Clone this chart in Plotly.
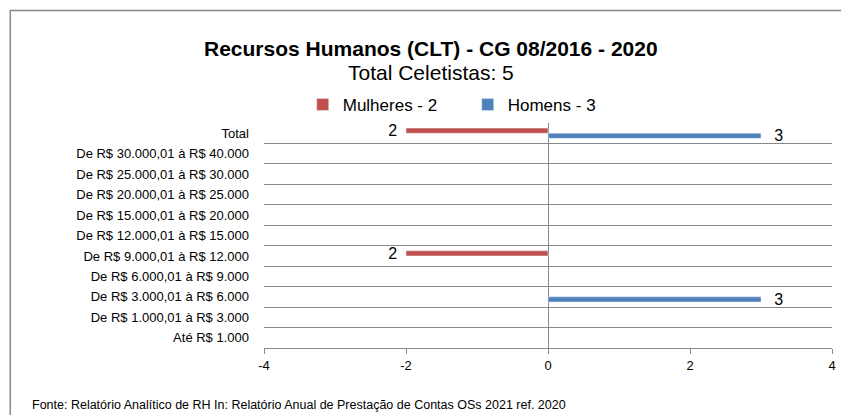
import plotly.graph_objects as go

categories = [
    "Total",
    "De R$ 30.000,01 à R$ 40.000",
    "De R$ 25.000,01 à R$ 30.000",
    "De R$ 20.000,01 à R$ 25.000",
    "De R$ 15.000,01 à R$ 20.000",
    "De R$ 12.000,01 à R$ 15.000",
    "De R$ 9.000,01 à R$ 12.000",
    "De R$ 6.000,01 à R$ 9.000",
    "De R$ 3.000,01 à R$ 6.000",
    "De R$ 1.000,01 à R$ 3.000",
    "Até R$ 1.000",
]
mulheres = [2, 0, 0, 0, 0, 0, 2, 0, 0, 0, 0]
homens = [3, 0, 0, 0, 0, 0, 0, 0, 3, 0, 0]
x_ticks = [-4, -2, 0, 2, 4]
x_tick_labels = ["-4", "-2", "0", "2", "4"]

title = "Recursos Humanos (CLT) - CG 08/2016 - 2020"
subtitle = "Total Celetistas: 5"
source = "Fonte: Relatório Analítico de RH In: Relatório Anual de Prestação de Contas OSs 2021 ref. 2020"

FONT = "Liberation Sans, Arial, sans-serif"
RED = "#C0504D"
BLUE = "#4F81BD"
NB = "\u00a0\u00a0"

W, H = 841, 415
L, R, T, B = 264, 5, 123, 67
pw = W - L - R
ph = H - T - B


def px(x):
    return (x - L) / pw


def py(y):
    return (H - y - B) / ph


fig = go.Figure()
fig.add_trace(go.Bar(
    y=categories,
    x=[-v if v else None for v in mulheres],
    text=[(str(v) + NB) if v else "" for v in mulheres],
    textposition="outside",
    constraintext="none",
    orientation="h",
    name="Mulheres - %d" % mulheres[0],
    marker=dict(color=RED),
    textfont=dict(size=16, color="#000", family=FONT),
    cliponaxis=False,
    legendrank=1,
))
fig.add_trace(go.Bar(
    y=categories,
    x=[v if v else None for v in homens],
    text=[(NB + "\u00a0" + str(v)) if v else "" for v in homens],
    textposition="outside",
    constraintext="none",
    orientation="h",
    name="Homens - %d" % homens[0],
    marker=dict(color=BLUE),
    textfont=dict(size=16, color="#000", family=FONT),
    cliponaxis=False,
    legendrank=2,
))

fig.update_layout(
    width=W, height=H,
    margin=dict(l=L, r=R, t=T, b=B),
    paper_bgcolor="white", plot_bgcolor="white",
    font=dict(family=FONT, color="#000", size=12),
    barmode="group",
    bargap=0.5,
    bargroupgap=0,
    showlegend=True,
    legend=dict(orientation="h", x=px(303), xanchor="left", y=py(105), yanchor="middle",
                font=dict(size=17, family=FONT),
                itemwidth=30, entrywidth=120, traceorder="normal"),
    xaxis=dict(range=[-4, 4], tickvals=x_ticks, ticktext=x_tick_labels,
               ticks="outside", ticklen=5,
               tickcolor="#888", showgrid=False, zeroline=True, zerolinecolor="#888",
               zerolinewidth=1, showline=True, linecolor="#888", linewidth=1,
               tickfont=dict(size=13, family=FONT)),
    yaxis=dict(type="category", autorange="reversed", tickson="boundaries",
               showgrid=True, gridcolor="#888", gridwidth=1, ticks="",
               showline=False, zeroline=False, tickfont=dict(size=13, family=FONT),
               ticklabelstandoff=14),
)

fig.add_annotation(text="<b>%s</b>" % title, x=px(432), y=py(48), xref="paper", yref="paper",
                   xanchor="center", yanchor="middle",
                   showarrow=False, font=dict(size=21, family=FONT))
fig.add_annotation(text=subtitle, x=px(432), y=py(73), xref="paper", yref="paper",
                   xanchor="center", yanchor="middle",
                   showarrow=False, font=dict(size=21, family=FONT))
fig.add_annotation(text=source, x=px(28), y=py(405), xref="paper", yref="paper",
                   xanchor="left", yanchor="middle",
                   showarrow=False, font=dict(size=12.5, family=FONT))

fig.add_shape(type="rect", xref="paper", yref="paper",
              x0=px(8.5), x1=px(870), y0=py(440), y1=py(10.5),
              line=dict(color="#888", width=1.5), layer="below")

fig.write_html("out.html", config={"displayModeBar": False},
               post_script="document.body.style.margin='0';document.body.style.overflow='hidden';")
